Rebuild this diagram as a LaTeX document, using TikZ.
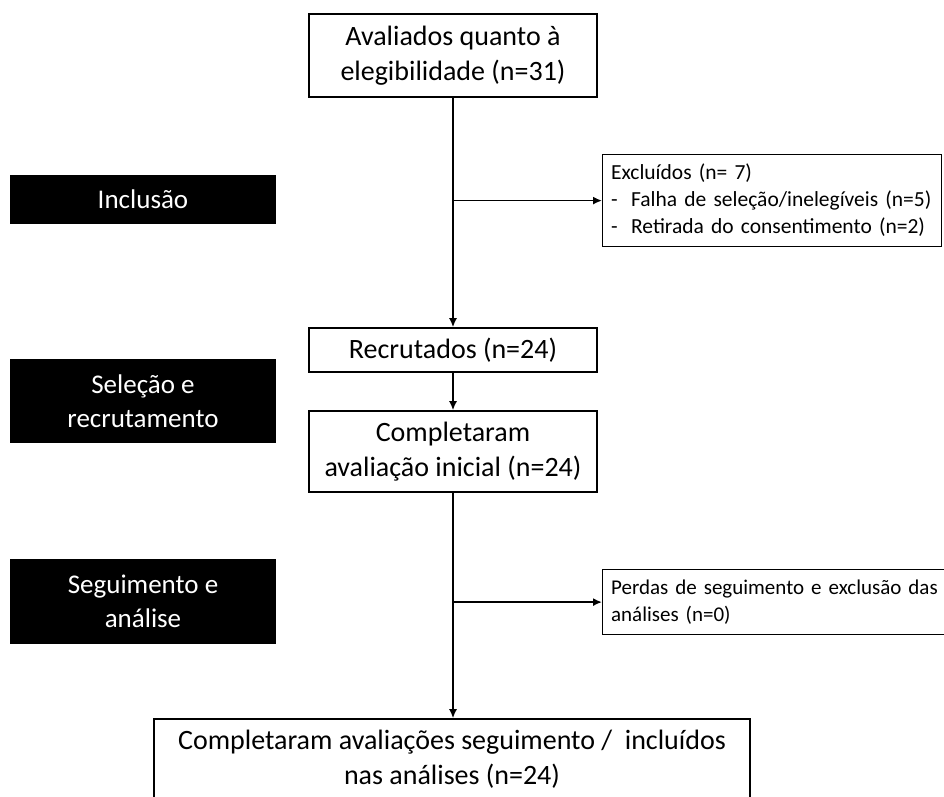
\documentclass[tikz,border=0pt]{standalone}
\usepackage{fontspec}
\setmainfont{Carlito}
\usetikzlibrary{arrows.meta}

\begin{document}
\begin{tikzpicture}[x=1pt, y=-1pt,
    box/.style={draw, line width=1.6pt, align=center, inner sep=0pt, minimum width=288pt,
      font=\fontsize{28}{35}\selectfont},
    side/.style={draw, line width=1.2pt, anchor=north west, align=left, inner xsep=8.5pt,
      inner ysep=0pt, font=\fontsize{21.5}{27}\selectfont},
    stage/.style={fill=black, text=white, align=center, inner sep=0pt, minimum width=266pt,
      font=\fontsize{27}{34}\selectfont},
    flow/.style={line width=1.6pt, -{Latex[length=9pt, width=8pt]}}
  ]
  \def\dash{\makebox[20pt][l]{-}}
  \useasboundingbox (0,0) rectangle (944,796);

  % Stages
  \node[stage, minimum height=49pt] (incl) at (143,199.5) {Inclusão};
  \node[stage, minimum height=84pt] (sel) at (143,401) {Seleção e\\recrutamento};
  \node[stage, minimum height=85pt] (seg) at (143,601.5) {Seguimento e\\análise};

  % Main flow
  \node[box, minimum height=83pt] (aval) at (453,55.5) {Avaliados quanto à\\elegibilidade (n=31)};
  \node[box, minimum height=44pt] (recr) at (453,350) {Recrutados (n=24)};
  \node[box, minimum height=81pt] (compl) at (453,451.5) {Completaram\\avaliação inicial (n=24)};
  \node[box, minimum width=596pt, minimum height=80pt] (final) at (452,759)
    {Completaram avaliações seguimento /\ \ incluídos\\nas análises (n=24)};

  % Side boxes
  \node[side, text width=322pt, minimum height=92pt] (excl) at (602,154)
    {\mbox{Excluídos (n= 7)}\\\mbox{\dash Falha de seleção/inelegíveis (n=5)}\\\mbox{\dash Retirada do consentimento (n=2)}};
  \node[side, text width=360pt, minimum height=65pt, font=\fontsize{21}{27}\selectfont] (perd) at (602,569)
    {\mbox{Perdas de seguimento e exclusão das}\\análises (n=0)};

  % Connectors
  \draw[flow] (aval) -- (recr);
  \draw[flow] (recr) -- (compl);
  \draw[flow] (compl.south) -- (compl.south |- final.north);
  \coordinate (j1) at (aval.south |- excl.west);
  \coordinate (j2) at (compl.south |- perd.west);
  \draw[flow] (j1) -- (excl.west);
  \draw[flow] (j2) -- (perd.west);
\end{tikzpicture}
\end{document}
